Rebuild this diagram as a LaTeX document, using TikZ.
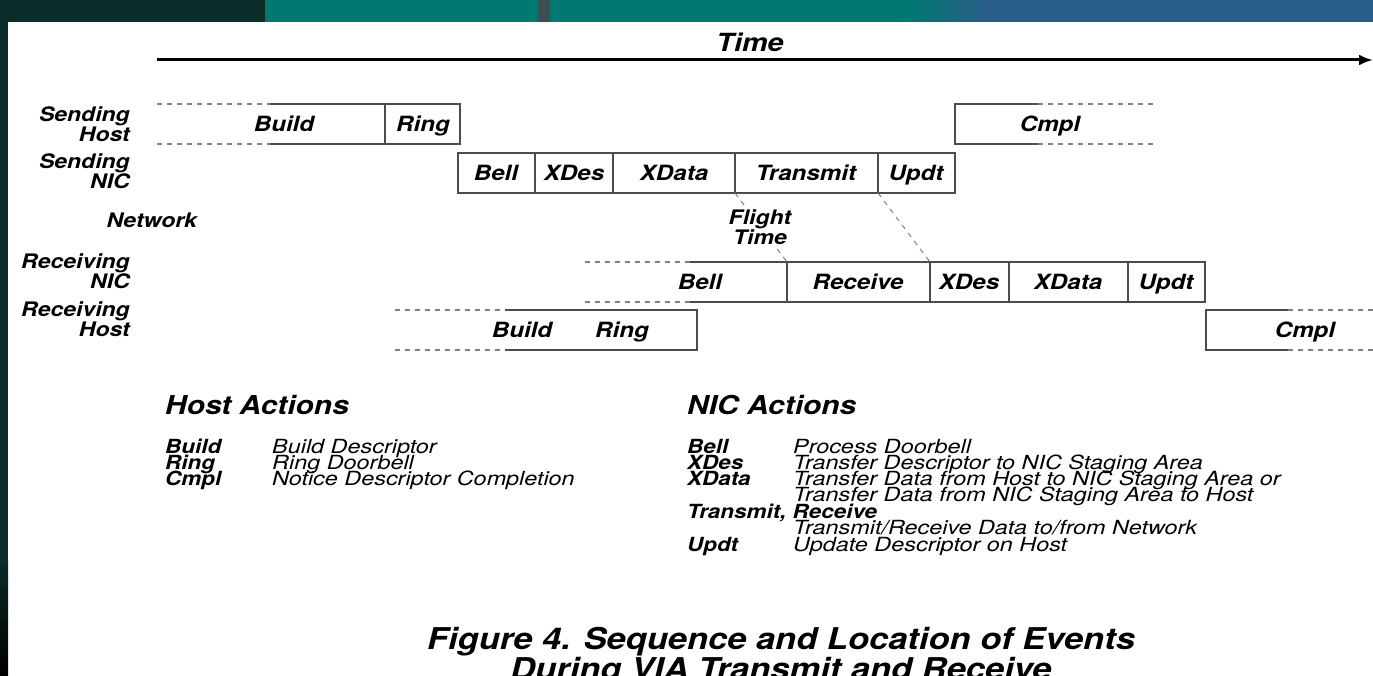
\documentclass[tikz,border=0pt]{standalone}
\usepackage{fontspec}
\setmainfont{TeX Gyre Heros}[FakeStretch=1.15]
\newfontfamily\legendfont{TeX Gyre Heros}[FakeStretch=1.2]
\usetikzlibrary{arrows.meta}

\definecolor{framedark}{HTML}{0B2C28}
\definecolor{bandteal}{HTML}{007A70}
\definecolor{bandblue}{HTML}{2A5E8A}
\definecolor{bandstripe}{HTML}{3D4F50}

\tikzset{
	cell/.style={inner sep=0pt, text height=19pt, text depth=4pt, font=\fontsize{21}{21}\selectfont\bfseries\itshape},
	lane/.style={align=right, anchor=east, inner sep=0pt, font=\fontsize{20}{18}\selectfont\bfseries\itshape},
	edge/.style={draw=black!70, line width=1.3pt},
	fade/.style={draw=black!50, line width=1.3pt, dash pattern=on 5pt off 5pt},
	head/.style={anchor=west, inner sep=0pt, font=\fontsize{26}{26}\selectfont\bfseries\itshape},
	key/.style={anchor=base west, inner sep=0pt, font=\fontsize{19.5}{16}\selectfont\bfseries\itshape},
	desc/.style={anchor=base west, inner sep=0pt, font=\legendfont\fontsize{19.5}{16}\selectfont\itshape}
}

\begin{document}
\begin{tikzpicture}[x=1pt, y=-1pt]
		\useasboundingbox (0,0) rectangle (1373,676);
		\clip (0,0) rectangle (1373,676);

		% slide frame
		\fill[white] (0,0) rectangle (1373,676);
		\fill[framedark] (0,0) rectangle (265,22);
		\fill[bandteal] (265,0) rectangle (905,22);
		\fill[bandstripe] (538,0) rectangle (550,22);
		\shade[left color=bandteal, right color=bandblue] (905,0) rectangle (985,22);
		\fill[bandblue] (985,0) rectangle (1373,22);
		\fill[framedark] (0,0) rectangle (8,560);
		\shade[top color=framedark, bottom color=black] (0,560) rectangle (8,676);

		% time axis
		\node[font=\fontsize{25}{25}\selectfont\bfseries\itshape] (time) at (750,42) {Time};
		\coordinate (t0) at (157,60);
		\coordinate (t1) at (1373,60);
		\draw[line width=3pt, -{Latex[length=14pt,width=11pt]}] (t0) -- (t1);

		% lanes
		\node[lane] (sh) at (130,124) {Sending\\Host};
		\node[lane] (sn) at (130,171) {Sending\\NIC};
		\node[lane] (net) at (197,220) {Network};
		\node[lane] (rn) at (130,271) {Receiving\\NIC};
		\node[lane] (rh) at (130,319) {Receiving\\Host};

		% sending host
		\draw[fade] (157,104) -- (270,104) (157,144) -- (270,144);
		\draw[edge] (270,104) -| (460,144) -- (270,144) (385,104) -- (385,144);
		\draw[edge] (1038,104) -- (955,104) |- (1038,144);
		\draw[fade] (1038,104) -- (1155,104) (1038,144) -- (1155,144);
		\node[cell] (sbuild) at (284,124) {Build};
		\node[cell] (sring) at (423,124) {Ring};
		\node[cell] (scmpl) at (1050,124) {Cmpl};

		% sending NIC
		\draw[edge] (458,153) rectangle (955,193);
		\foreach \x in {535,613,735,878}
			\draw[edge] (\x,153) -- (\x,193);
		\node[cell] (sbell) at (496,173) {Bell};
		\node[cell] (sxdes) at (574,173) {XDes};
		\node[cell] (sxdata) at (674,173) {XData};
		\node[cell] (strans) at (806,173) {Transmit};
		\node[cell] (supdt) at (916,173) {Updt};

		% receiving NIC
		\draw[fade] (585,262) -- (690,262) (585,302) -- (690,302);
		\draw[edge] (690,262) -| (1205,302) -- (690,302);
		\foreach \x in {787,930,1009,1128}
			\draw[edge] (\x,262) -- (\x,302);
		\node[cell] (rbell) at (700,282) {Bell};
		\node[cell] (rrecv) at (858,282) {Receive};
		\node[cell] (rxdes) at (969,282) {XDes};
		\node[cell] (rxdata) at (1068,282) {XData};
		\node[cell] (rupdt) at (1166,282) {Updt};

		% receiving host
		\draw[fade] (395,310) -- (505,310) (395,350) -- (505,350);
		\draw[edge] (505,310) -| (697,350) -- (505,350);
		\draw[edge] (1288,310) -- (1206,310) |- (1288,350);
		\draw[fade] (1288,310) -- (1373,310) (1288,350) -- (1373,350);
		\node[cell] (rbuild) at (522,330) {Build};
		\node[cell] (rring) at (622,330) {Ring};
		\node[cell] (rcmpl) at (1305,330) {Cmpl};

		% flight time
		\coordinate (fa) at (735,193);
		\coordinate (fb) at (787,262);
		\coordinate (fc) at (878,193);
		\coordinate (fd) at (930,262);
		\draw[fade, line width=1pt] (fa) -- (fb) (fc) -- (fd);
		\node[lane, anchor=center, align=center, fill=white, inner sep=1pt] (flight) at (760,227) {Flight\\Time};

		% legend
		\node[head] (hosthd) at (165,405) {Host Actions};
		\foreach \k/\d [count=\i] in {Build/Build Descriptor, Ring/Ring Doorbell, Cmpl/Notice Descriptor Completion} {
			\node[key] (hk\i) at (165,{437+16.3*\i}) {\k};
			\node[desc] (hd\i) at (272,{437+16.3*\i}) {\d};
		}
		\node[head] (nichd) at (687,405) {NIC Actions};
		\node[key] (nk1) at (687,453) {Bell};
		\node[desc] (nd1) at (793,453) {Process Doorbell};
		\node[key] (nk2) at (687,469) {XDes};
		\node[desc] (nd2) at (793,469) {Transfer Descriptor to NIC Staging Area};
		\node[key] (nk3) at (687,485) {XData};
		\node[desc] (nd3) at (793,485) {Transfer Data from Host to NIC Staging Area or};
		\node[desc] (nd4) at (793,501) {Transfer Data from NIC Staging Area to Host};
		\node[key] (nk5) at (687,518) {Transmit, Receive};
		\node[desc] (nd6) at (793,534) {Transmit/Receive Data to/from Network};
		\node[key] (nk7) at (687,551) {Updt};
		\node[desc] (nd7) at (793,551) {Update Descriptor on Host};

		% caption
		\node[align=center, inner sep=0pt, font=\fontsize{30}{25}\selectfont\bfseries\itshape] (cap) at (781,657) {Figure 4. Sequence and Location of Events\\During VIA Transmit and Receive};
	\end{tikzpicture}
\end{document}
